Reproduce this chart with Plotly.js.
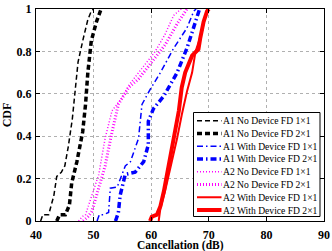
<!DOCTYPE html>
<html><head><meta charset="utf-8">
<script src="https://cdn.plot.ly/plotly-3.0.1.min.js"></script>
<style>html,body{margin:0;padding:0;background:#fff}#chart{width:332px;height:251px}</style>
</head><body><div id="chart"></div>
<script>
// ---- data ----
const seriesNames = [
  "A1 No Device FD 1\u00d71", "A1 No Device FD 2\u00d71",
  "A1 With Device FD 1\u00d71", "A1 With Device FD 2\u00d71",
  "A2 No Device FD 1\u00d71", "A2 No Device FD 2\u00d71",
  "A2 With Device FD 1\u00d71", "A2 With Device FD 2\u00d71"
];
const a1NoDev1x1X = [40.8, 41.2, 42.2, 43.1, 43.6, 44.4, 45.0, 45.6, 46.3, 46.9, 47.3, 48.2, 49.0, 49.6, 50.0];
const a1NoDev1x1Y = [0, 0.03, 0.03, 0.12, 0.21, 0.23, 0.26, 0.35, 0.48, 0.63, 0.75, 0.86, 0.95, 0.99, 1.0];
const a1NoDev2x1X = [43.6, 44.1, 45.1, 45.8, 46.2, 47.1, 48.1, 48.6, 49.0, 49.6, 50.5, 51.0, 51.3];
const a1NoDev2x1Y = [0, 0.03, 0.03, 0.075, 0.18, 0.28, 0.42, 0.55, 0.70, 0.85, 0.94, 0.98, 1.0];
const a1WithDev1x1X = [50.6, 51.0, 51.7, 52.6, 52.9, 54.1, 55.5, 56.4, 57.8, 58.4, 59.8, 61.6, 63.9, 66.2, 67.4, 67.8];
const a1WithDev1x1Y = [0, 0.03, 0.03, 0.04, 0.155, 0.16, 0.26, 0.28, 0.39, 0.55, 0.62, 0.70, 0.815, 0.91, 0.99, 1.0];
const a1WithDev2x1X = [53.8, 54.1, 54.3, 54.6, 55.5, 57.2, 58.7, 59.5, 59.5, 60.4, 62.2, 64.5, 66.2, 67.1, 68.0, 68.4];
const a1WithDev2x1Y = [0, 0.02, 0.04, 0.12, 0.22, 0.23, 0.28, 0.36, 0.47, 0.53, 0.59, 0.70, 0.815, 0.89, 0.97, 1.0];
const a2NoDev1x1X = [47.4, 48.0, 48.6, 50.9, 52.0, 53.2, 54.9, 56.1, 58.4, 60.7, 62.4, 63.9, 65.2];
const a2NoDev1x1Y = [0, 0.02, 0.03, 0.22, 0.39, 0.52, 0.58, 0.64, 0.72, 0.80, 0.88, 0.97, 1.0];
const a2NoDev2x1X = [48.2, 49.0, 49.7, 52.0, 53.2, 54.3, 56.1, 57.8, 60.1, 62.4, 64.5, 66.2];
const a2NoDev2x1Y = [0, 0.02, 0.045, 0.26, 0.42, 0.55, 0.63, 0.67, 0.75, 0.83, 0.93, 1.0];
const a2WithDev1x1X = [61.3, 61.6, 62.4, 63.6, 64.5, 65.3, 66.2, 67.1, 67.7, 68.8, 69.4, 69.9];
const a2WithDev1x1Y = [0, 0.06, 0.14, 0.28, 0.39, 0.50, 0.61, 0.70, 0.80, 0.89, 0.97, 1.0];
const a2WithDev2x1X = [59.8, 60.1, 61.0, 61.6, 62.2, 63.0, 63.9, 64.8, 65.3, 65.9, 67.1, 68.2, 68.5, 69.1, 69.7, 70.0];
const a2WithDev2x1Y = [0, 0.02, 0.03, 0.07, 0.14, 0.26, 0.39, 0.52, 0.63, 0.70, 0.78, 0.81, 0.86, 0.94, 0.99, 1.0];
const xTickVals = [40, 50, 60, 70, 80, 90];
const yTickVals = [0, 0.2, 0.4, 0.6, 0.8, 1];
const yTickText = ["0", "0.2", "0.4", "0.6", "0.8", "1"];
const xTitle = "Cancellation (dB)";
const yTitle = "CDF";

// ---- styles ----
const styles = [
  {color: "#000000", width: 1.5, dash: "5px,3px"},
  {color: "#000000", width: 3.5, dash: "5px,3px"},
  {color: "#0000ff", width: 1.5, dash: "6px,3px,1.5px,3px"},
  {color: "#0000ff", width: 3.5, dash: "6px,3px,1.5px,3px"},
  {color: "#ff00ff", width: 1.5, dash: "1px,2px"},
  {color: "#ff00ff", width: 3, dash: "1px,2px"},
  {color: "#ff0000", width: 2, dash: "solid"},
  {color: "#ff0000", width: 4, dash: "solid"}
];
const seriesX = [a1NoDev1x1X, a1NoDev2x1X, a1WithDev1x1X, a1WithDev2x1X, a2NoDev1x1X, a2NoDev2x1X, a2WithDev1x1X, a2WithDev2x1X];
const seriesY = [a1NoDev1x1Y, a1NoDev2x1Y, a1WithDev1x1Y, a1WithDev2x1Y, a2NoDev1x1Y, a2NoDev2x1Y, a2WithDev1x1Y, a2WithDev2x1Y];

const traces = seriesNames.map((n, i) => ({
  type: "scatter", mode: "lines", name: n,
  x: seriesX[i], y: seriesY[i],
  line: {color: styles[i].color, width: styles[i].width, dash: styles[i].dash},
  showlegend: false, hoverinfo: "skip"
}));

// ---- hand-built compact legend (MATLAB-like) ----
const W = 332, H = 251, mL = 36, mR = 8, mT = 9, mB = 30;
const pw = W - mL - mR, ph = H - mT - mB;
const px = v => (v - mL) / pw;
const py = v => (H - mB - v) / ph;
const legTop = 112.5, legBot = 216.5, legLeft = 193.5, legRight = 320;
const shapes = [{
  type: "rect", xref: "paper", yref: "paper",
  x0: px(legLeft), x1: px(legRight), y0: py(legBot), y1: py(legTop),
  line: {color: "#000", width: 1}, fillcolor: "#fff", layer: "above"
}];
const serif = "Liberation Serif, serif";
const annotations = [];
seriesNames.forEach((n, i) => {
  const yy = py(120.7 + 12.76 * i);
  shapes.push({
    type: "line", xref: "paper", yref: "paper",
    x0: px(197), x1: px(221.5), y0: yy, y1: yy,
    line: {color: styles[i].color, width: styles[i].width, dash: styles[i].dash}, layer: "above"
  });
  annotations.push({
    xref: "paper", yref: "paper", x: px(222), y: yy, xanchor: "left", yanchor: "middle",
    text: n, showarrow: false, borderpad: 0,
    font: {family: serif, size: 9.6, color: "#000"}
  });
});
// x-axis title placed below the tick labels
annotations.push({
  xref: "paper", yref: "paper", x: 0.5, y: py(245), xanchor: "center", yanchor: "middle",
  text: xTitle, showarrow: false, borderpad: 0,
  font: {family: serif, size: 11.5, color: "#000", weight: "bold"}
});

const axisCommon = {
  showline: true, linecolor: "#000", linewidth: 1, mirror: "ticks",
  ticks: "inside", ticklen: 4, tickcolor: "#000", tickwidth: 1,
  showgrid: true, gridcolor: "#b0b0b0", gridwidth: 1, griddash: "dot",
  zeroline: false, automargin: false,
  tickfont: {family: serif, size: 12, color: "#000", weight: "bold"}
};

const layout = {
  width: W, height: H,
  margin: {l: mL, r: mR, t: mT, b: mB, pad: 0},
  paper_bgcolor: "#fff", plot_bgcolor: "#fff",
  showlegend: false,
  xaxis: Object.assign({}, axisCommon, {
    range: [40, 90], tickvals: xTickVals, ticktext: xTickVals.map(String),
    ticklabelstandoff: 3
  }),
  yaxis: Object.assign({}, axisCommon, {
    range: [0, 1], tickvals: yTickVals, ticktext: yTickText,
    ticklabelstandoff: 1,
    title: {text: yTitle, standoff: 3,
      font: {family: serif, size: 12, color: "#000", weight: "bold"}}
  }),
  shapes: shapes,
  annotations: annotations
};

Plotly.newPlot("chart", traces, layout, {staticPlot: true, displayModeBar: false});
</script>
</body></html>
